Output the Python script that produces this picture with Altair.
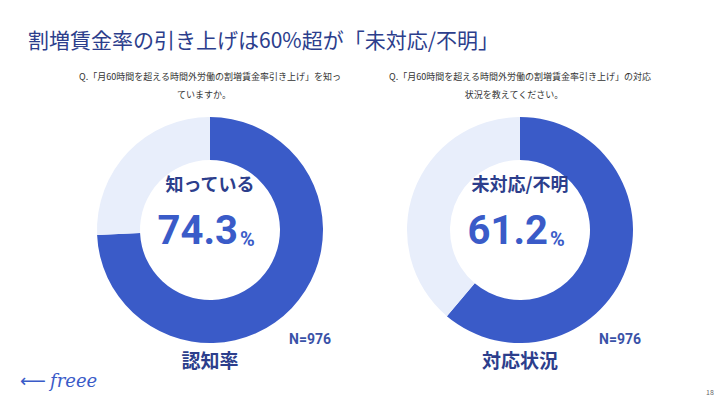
import altair as alt
import pandas as pd

# data
left_labels = ["知っている", "知らない"]
left_values = [74.3, 25.7]
right_labels = ["未対応/不明", "対応済み"]
right_values = [61.2, 38.8]

title_text = "割増賃金率の引き上げは60%超が「未対応/不明」"
questions = [
    ["Q.「月60時間を超える時間外労働の割増賃金率引き上げ」を知っ", "ていますか。"],
    ["Q.「月60時間を超える時間外労働の割増賃金率引き上げ」の対応", "状況を教えてください。"],
]
centers = [210, 520]
captions = ["認知率", "対応状況"]
n_label = "N=976"

BLUE = "#3a5bc8"
LIGHT = "#e8eefb"
NAVY = "#2c3e8c"
OFF = 8  # page margin


def donut(labels, values, cx, cy=230):
    df = pd.DataFrame({"label": labels, "value": values, "order": range(len(values))})
    return (
        alt.Chart(df)
        .mark_arc(outerRadius=113, innerRadius=70)
        .encode(
            theta=alt.Theta("value:Q", stack=True),
            order=alt.Order("order:Q"),
            color=alt.Color("label:N", scale=alt.Scale(domain=labels, range=[BLUE, LIGHT]), legend=None),
            x=alt.value(cx - OFF),
            y=alt.value(cy - OFF),
        )
    )


def text(s, x, y, size, color, weight="normal", align="center", font="Noto Sans CJK JP", style="normal"):
    return (
        alt.Chart(pd.DataFrame({"t": [s]}))
        .mark_text(fontSize=size, color=color, fontWeight=weight, align=align,
                   baseline="middle", font=font, fontStyle=style)
        .encode(text="t:N", x=alt.value(x - OFF), y=alt.value(y - OFF))
    )


layers = [text(title_text, 28, 42, 21, NAVY, align="left")]
for i, (labels, values) in enumerate([(left_labels, left_values), (right_labels, right_values)]):
    cx = centers[i]
    layers.append(donut(labels, values, cx))
    layers.append(text(questions[i][0], cx, 77, 9, "#333333"))
    layers.append(text(questions[i][1], cx - 6, 95, 9, "#333333"))
    layers.append(text(labels[0], cx, 186, 18, NAVY, weight="bold"))
    layers.append(text(f"{values[0]}", cx + 28, 232, 40, BLUE, weight="bold", align="right", font="Roboto"))
    layers.append(text("%", cx + 30, 240, 20, BLUE, weight="bold", align="left", font="Roboto"))
    layers.append(text(n_label, cx + 100, 340, 14, "#3a52a8", weight="bold", font="Roboto"))
    layers.append(text(captions[i], cx, 362, 19, NAVY, weight="bold"))

layers.append(text("freee", 50, 382, 18, "#3a5bc8", align="left", font="DejaVu Serif", style="italic"))
layers.append(text("⟵", 20, 382, 18, "#3a5bc8", align="left", font="DejaVu Sans"))
layers.append(text("18", 710, 393, 7, "#666666"))

chart = alt.layer(*layers).properties(
    width=712, height=393, autosize=alt.AutoSizeParams(type="none"), padding=0,
).configure_view(stroke=None)

chart.save("out.html", embed_options={"renderer": "svg", "actions": False})
